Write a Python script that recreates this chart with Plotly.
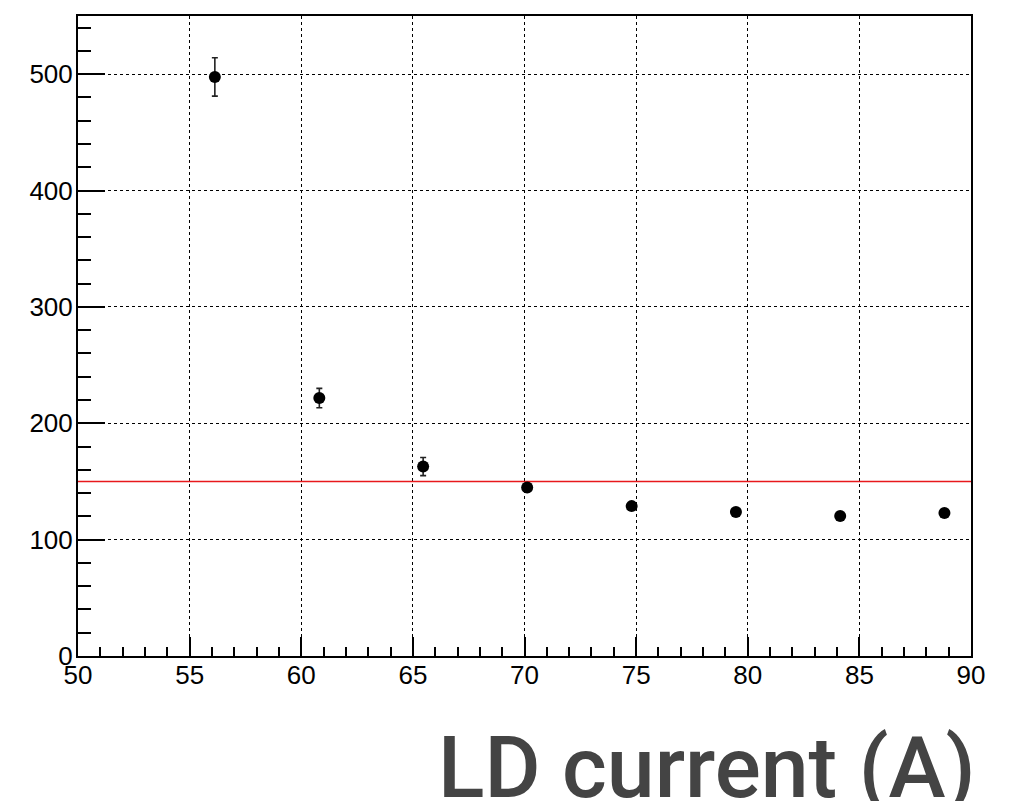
import plotly.graph_objects as go

# Data
ld_current = [56.13, 60.81, 65.46, 70.12, 74.80, 79.47, 84.14, 88.81]
values = [497.6, 221.7, 162.8, 144.8, 128.8, 123.7, 120.3, 122.8]
errors = [16.5, 8.3, 7.8, 3.0, 2.5, 2.5, 2.5, 2.5]
threshold = 150
x_range = [50, 90]
y_range = [0, 550]
x_title = "LD current (A)"

# page has an 8px body margin; figure sized to fit window without scrollbars
OFF = 8
W, H = 1012 - 2 * OFF, 809 - 2 * OFF
L = 78 - OFF
T = 14 - OFF
R = W - (971 - OFF)
B = H - (656 - OFF)
plot_w = W - L - R
plot_h = H - T - B

fig = go.Figure()

fig.add_trace(go.Scatter(
    x=x_range, y=[threshold, threshold], mode="lines",
    line=dict(color="#e8191c", width=1.6), hoverinfo="skip", showlegend=False))

fig.add_trace(go.Scatter(
    x=ld_current, y=values, mode="markers",
    marker=dict(color="black", size=12, symbol="circle"),
    error_y=dict(type="data", array=errors, visible=True, color="#222222",
                 thickness=1.6, width=3),
    showlegend=False))

tickfont = dict(family="Liberation Sans, Arial, sans-serif", size=26, color="black")

fig.update_xaxes(
    range=x_range, dtick=5, tick0=50,
    ticks="inside", ticklen=19, tickwidth=1.5, tickcolor="black",
    minor=dict(dtick=1, ticks="inside", ticklen=9, tickwidth=1.5, tickcolor="black", showgrid=False),
    showline=True, linecolor="black", linewidth=2, mirror=True,
    showgrid=True, gridcolor="black", gridwidth=1, griddash="dot",
    zeroline=False, tickfont=tickfont, ticklabelstandoff=-5,
)
fig.update_yaxes(
    range=y_range, dtick=100, tick0=0,
    ticks="inside", ticklen=27, tickwidth=1.5, tickcolor="black",
    minor=dict(dtick=20, ticks="inside", ticklen=13, tickwidth=1.5, tickcolor="black", showgrid=False),
    showline=True, linecolor="black", linewidth=2, mirror=True,
    showgrid=True, gridcolor="black", gridwidth=1, griddash="dot",
    zeroline=False, tickfont=tickfont, ticklabelstandoff=-2,
)

fig.add_annotation(
    text=x_title, xref="paper", yref="paper",
    x=(978 - 78) / plot_w, y=(656 - 768) / plot_h,
    xanchor="right", yanchor="middle", showarrow=False,
    font=dict(family="Roboto, Liberation Sans, Arial, sans-serif", size=86,
              color="#444444", weight=500),
)

fig.update_layout(
    width=W, height=H,
    margin=dict(l=L, r=R, t=T, b=B, pad=0),
    paper_bgcolor="white", plot_bgcolor="white",
    showlegend=False,
)

fig.write_html("out.html")
